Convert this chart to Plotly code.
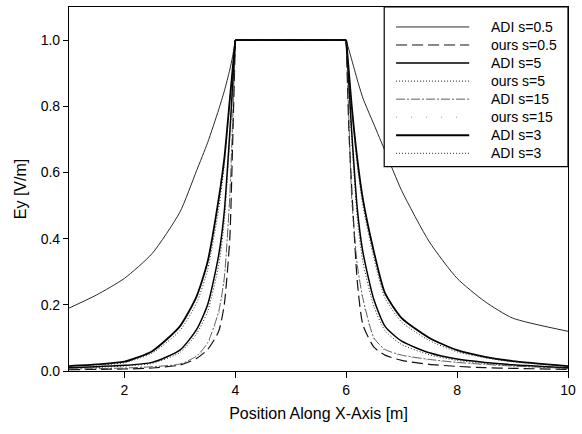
import plotly.graph_objects as go

# ---------------- data ----------------
x_left = [1.0, 1.5, 2.0, 2.5, 3.0, 3.3, 3.5, 3.7, 3.8, 3.9, 3.95, 4.0]
x_right = [6.0, 6.05, 6.1, 6.2, 6.3, 6.5, 6.7, 7.0, 7.5, 8.0, 8.5, 9.0, 10.0]
x_vals = x_left + x_right

names = ["ADI s=0.5", "ours s=0.5", "ADI s=5", "ours s=5",
         "ADI s=15", "ours s=15", "ADI s=3", "ADI s=3"]

adi_05 = [0.19, 0.23, 0.28, 0.355, 0.48, 0.605, 0.69, 0.79, 0.845, 0.91, 0.95, 1.0,
          1.0, 0.97, 0.94, 0.88, 0.825, 0.745, 0.665, 0.545, 0.39, 0.28, 0.21, 0.16, 0.12]
ours_05 = [0.004, 0.005, 0.006, 0.009, 0.018, 0.038, 0.065, 0.12, 0.20, 0.40, 0.68, 1.0,
           1.0, 0.72, 0.55, 0.27, 0.14, 0.072, 0.048, 0.032, 0.02, 0.014, 0.01, 0.008, 0.005]
adi_5 = [0.01, 0.013, 0.017, 0.026, 0.063, 0.125, 0.20, 0.35, 0.48, 0.72, 0.86, 1.0,
         1.0, 0.86, 0.72, 0.49, 0.36, 0.215, 0.135, 0.09, 0.055, 0.036, 0.026, 0.019, 0.01]
ours_5 = [0.009, 0.011, 0.015, 0.023, 0.056, 0.112, 0.18, 0.32, 0.45, 0.70, 0.85, 1.0,
          1.0, 0.85, 0.70, 0.46, 0.33, 0.195, 0.122, 0.08, 0.049, 0.032, 0.023, 0.017, 0.009]
adi_15 = [0.006, 0.007, 0.009, 0.013, 0.021, 0.045, 0.085, 0.18, 0.28, 0.53, 0.75, 1.0,
          1.0, 0.75, 0.52, 0.32, 0.22, 0.10, 0.065, 0.048, 0.035, 0.026, 0.02, 0.015, 0.008]
ours_15 = [0.006, 0.007, 0.008, 0.012, 0.02, 0.042, 0.08, 0.17, 0.27, 0.52, 0.74, 1.0,
           1.0, 0.74, 0.51, 0.31, 0.21, 0.095, 0.062, 0.046, 0.033, 0.025, 0.019, 0.014, 0.008]
adi_3 = [0.015, 0.02, 0.028, 0.06, 0.135, 0.225, 0.33, 0.52, 0.64, 0.82, 0.91, 1.0,
         1.0, 0.90, 0.80, 0.64, 0.52, 0.36, 0.235, 0.16, 0.10, 0.063, 0.043, 0.03, 0.015]
adi_3b = [0.014, 0.018, 0.025, 0.054, 0.122, 0.205, 0.305, 0.49, 0.62, 0.81, 0.90, 1.0,
          1.0, 0.89, 0.79, 0.62, 0.50, 0.34, 0.22, 0.148, 0.092, 0.058, 0.04, 0.028, 0.014]

series = [adi_05, ours_05, adi_5, ours_5, adi_15, ours_15, adi_3, adi_3b]

x_ticks = [2, 4, 6, 8, 10]
y_ticks = [0.0, 0.2, 0.4, 0.6, 0.8, 1.0]

# ---------------- styles ----------------
styles = [
    dict(color="#111", width=0.9, dash="solid"),
    dict(color="#111", width=1.2, dash="11px,5px"),
    dict(color="#000", width=1.5, dash="solid"),
    dict(color="#222", width=1.0, dash="1px,2px"),
    dict(color="#333", width=0.8, dash="9px,2px,2px,2px"),
    dict(color="#777", width=0.8, dash="1px,14px"),
    dict(color="#000", width=1.8, dash="solid"),
    dict(color="#222", width=1.0, dash="1px,2px"),
]

FONT = "Liberation Sans, Arial, sans-serif"
nL = len(x_left)

fig = go.Figure()
for nm, ys, st in zip(names, series, styles):
    # left tail, flat top, right tail (tails smoothed, corners kept sharp)
    fig.add_trace(go.Scatter(x=x_vals[:nL], y=ys[:nL], mode="lines", name=nm,
                             line=dict(**st, shape="spline", smoothing=0.6),
                             showlegend=False))
    fig.add_trace(go.Scatter(x=x_vals[nL - 1:nL + 1], y=ys[nL - 1:nL + 1], mode="lines",
                             name=nm, line=dict(**st), showlegend=False))
    fig.add_trace(go.Scatter(x=x_vals[nL:], y=ys[nL:], mode="lines", name=nm,
                             line=dict(**st, shape="spline", smoothing=0.6),
                             showlegend=False))

# plot-area geometry in pixels (for the hand-drawn legend box)
W, H = 582, 434
ML, MR, MT, MB = 69, 8, 6, 63
PX0, PX1, PY0, PY1 = ML, W - MR, MT, H - MB


def px(p):
    return (p - PX0) / (PX1 - PX0)


def py(p):
    return (PY1 - p) / (PY1 - PY0)


shapes = [dict(type="rect", xref="paper", yref="paper",
               x0=px(388), x1=1.0, y0=py(166), y1=1.0,
               line=dict(color="#000", width=1.2), fillcolor="white", layer="above")]
annotations = []
for i, (nm, st) in enumerate(zip(names, styles)):
    yy = 26 + i * 18.1
    shapes.append(dict(type="line", xref="paper", yref="paper",
                       x0=px(400), x1=px(474), y0=py(yy), y1=py(yy),
                       line=st, layer="above"))
    annotations.append(dict(xref="paper", yref="paper", x=px(494), y=py(yy),
                            text=nm, showarrow=False, xanchor="left", yanchor="middle",
                            font=dict(family=FONT, size=14, color="#000")))

fig.update_layout(
    width=W, height=H,
    margin=dict(l=ML, r=MR, t=MT, b=MB, pad=0),
    paper_bgcolor="white", plot_bgcolor="white",
    font=dict(family=FONT, size=14, color="#000"),
    shapes=shapes, annotations=annotations,
)
fig.update_xaxes(range=[1, 10], tickvals=x_ticks, ticktext=[str(v) for v in x_ticks],
                 showgrid=False, zeroline=False, showline=True, linecolor="#000",
                 linewidth=1.2, mirror=True, ticks="outside", ticklen=6, tickcolor="#000",
                 tickfont=dict(size=14), ticklabeloverflow="allow",
                 title=dict(text="Position Along X-Axis [m]", font=dict(size=16), standoff=10))
fig.update_yaxes(range=[0, 1.1], tickvals=y_ticks, ticktext=[f"{v:.1f}" for v in y_ticks],
                 showgrid=False, zeroline=False, showline=True, linecolor="#000",
                 linewidth=1.2, mirror=True, ticks="outside", ticklen=5, tickcolor="#000",
                 tickfont=dict(size=14),
                 title=dict(text="Ey [V/m]", font=dict(size=16), standoff=10))

fig.write_html("out.html", config={"displayModeBar": False},
               post_script="document.body.style.margin='0';")
